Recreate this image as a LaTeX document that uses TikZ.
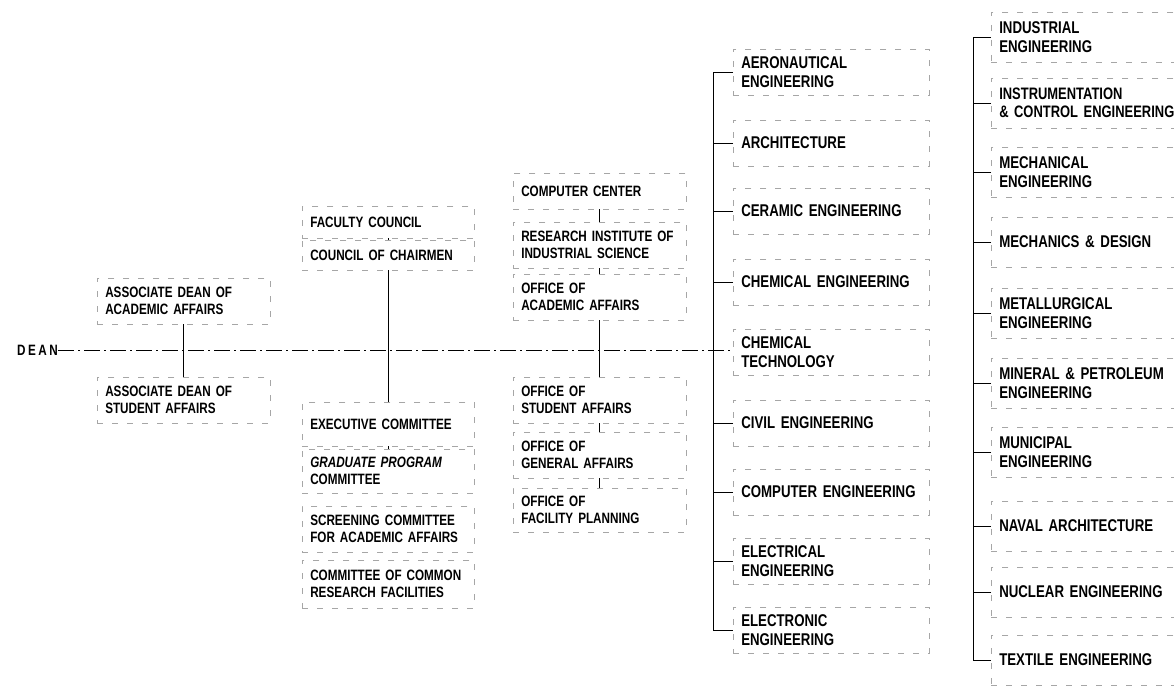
\documentclass[tikz,border=0pt]{standalone}
\usepackage{fontspec}
\setmainfont{Liberation Sans}[FakeStretch=0.78]
\usetikzlibrary{positioning}
\hyphenpenalty=10000
\exhyphenpenalty=10000

\begin{document}
\begin{tikzpicture}[x=1pt,y=-1pt,
  font=\fontsize{15}{16.5}\selectfont\bfseries,
  unit/.style={draw=black!35,dash pattern=on 6pt off 9pt,line width=0.5pt,anchor=west,align=left,inner xsep=8pt,inner ysep=2pt},
  assoc/.style={unit,text width=157pt,minimum height=46pt},
  board/.style={unit,text width=156pt},
  office/.style={unit,text width=157pt},
  deptA/.style={unit,text width=180pt,minimum height=46pt,font=\fontsize{17}{18.5}\selectfont\bfseries},
  deptB/.style={unit,text width=200pt,minimum height=50pt,font=\fontsize{17}{18.5}\selectfont\bfseries},
  link/.style={line width=0.9pt},
  tick/.style={line width=0.6pt},
  main/.style={line width=0.9pt,dash pattern=on 16pt off 4pt on 2pt off 4pt}]
\useasboundingbox (0,0) rectangle (1174,693);

% dean and associate deans
\node[anchor=west,inner sep=0pt] (dean) at (17,350) {D\,E\,A\,N};
\node[assoc] (acad) at (97,301) {ASSOCIATE DEAN OF\\ACADEMIC AFFAIRS};
\node[assoc] (stud) at (97,400) {ASSOCIATE DEAN OF\\STUDENT AFFAIRS};

% councils and committees
\node[board,minimum height=32pt] (fac) at (302,222) {FACULTY COUNCIL};
\node[board,minimum height=30pt] (chair) at (302,255) {COUNCIL OF CHAIRMEN};
\node[board,minimum height=44pt] (exec) at (302,424) {EXECUTIVE COMMITTEE};
\node[board,minimum height=44pt] (grad) at (302,471) {\textit{GRADUATE PROGRAM}\\COMMITTEE};
\node[board,minimum height=46pt] (screen) at (302,529) {SCREENING COMMITTEE\\FOR ACADEMIC AFFAIRS};
\node[board,minimum height=48pt] (common) at (302,584) {COMMITTEE OF COMMON\\RESEARCH FACILITIES};

% offices
\node[office,minimum height=36pt] (comp) at (513,191) {COMPUTER CENTER};
\node[office,minimum height=46pt] (rise) at (513,245) {RESEARCH INSTITUTE OF\\INDUSTRIAL SCIENCE};
\node[office,minimum height=46pt] (oaa) at (513,297) {OFFICE OF\\ACADEMIC AFFAIRS};
\node[office,minimum height=46pt] (osa) at (513,400) {OFFICE OF\\STUDENT AFFAIRS};
\node[office,minimum height=46pt] (oga) at (513,455) {OFFICE OF\\GENERAL AFFAIRS};
\node[office,minimum height=44pt] (ofp) at (513,510) {OFFICE OF\\FACILITY PLANNING};

% departments, first column
\node[deptA] (aero) at (733,72) {AERONAUTICAL\\ENGINEERING};
\node[deptA] (arch) at (733,143) {ARCHITECTURE};
\node[deptA] (ceram) at (733,211) {CERAMIC ENGINEERING};
\node[deptA] (chemeng) at (733,282) {CHEMICAL ENGINEERING};
\node[deptA] (chemtech) at (733,352) {CHEMICAL\\TECHNOLOGY};
\node[deptA] (civil) at (733,423) {CIVIL ENGINEERING};
\node[deptA] (compeng) at (733,492) {COMPUTER ENGINEERING};
\node[deptA] (elec) at (733,561) {ELECTRICAL\\ENGINEERING};
\node[deptA] (elecn) at (733,630) {ELECTRONIC\\ENGINEERING};

% departments, second column
\node[deptB] (indus) at (991,37) {INDUSTRIAL\\ENGINEERING};
\node[deptB,font=\fontsize{16.6}{18.5}\selectfont\bfseries] (instr) at (991,103) {INSTRUMENTATION\\\& CONTROL ENGINEERING};
\node[deptB] (mech) at (991,172) {MECHANICAL\\ENGINEERING};
\node[deptB] (mechdes) at (991,242) {MECHANICS \& DESIGN};
\node[deptB] (metal) at (991,313) {METALLURGICAL\\ENGINEERING};
\node[deptB] (mineral) at (991,383) {MINERAL \& PETROLEUM\\ENGINEERING};
\node[deptB] (munic) at (991,452) {MUNICIPAL\\ENGINEERING};
\node[deptB] (naval) at (991,526) {NAVAL ARCHITECTURE};
\node[deptB] (nuclear) at (991,592) {NUCLEAR ENGINEERING};
\node[deptB] (textile) at (991,660) {TEXTILE ENGINEERING};

% connectors
\draw[main] (dean.east) -- (dean.east -| chemtech.west);
\draw[link] (acad.south) -- (stud.north);
\draw[link] (chair.south) -- (exec.north);
\draw[link] (oaa.south) -- (osa.north);
\draw[tick] (fac.south) -- (chair.north);
\draw[tick] (comp.south) -- (rise.north);
\draw[tick] (rise.south) -- (oaa.north);
\draw[tick] (osa.south) -- (oga.north);
\draw[tick] (oga.south) -- (ofp.north);
\draw[tick] (exec.south) -- (grad.north);
\draw[link] (aero.west) -- ++(-20,0) |- (elecn.west);
\foreach \d in {arch,ceram,chemeng,civil,compeng,elec}
  \draw[link] (\d.west) -- ++(-20,0);
\draw[link] (indus.west) -- ++(-18,0) |- (textile.west);
\foreach \d in {instr,mech,mechdes,metal,mineral,munic,naval,nuclear}
  \draw[link] (\d.west) -- ++(-18,0);
\end{tikzpicture}
\end{document}
